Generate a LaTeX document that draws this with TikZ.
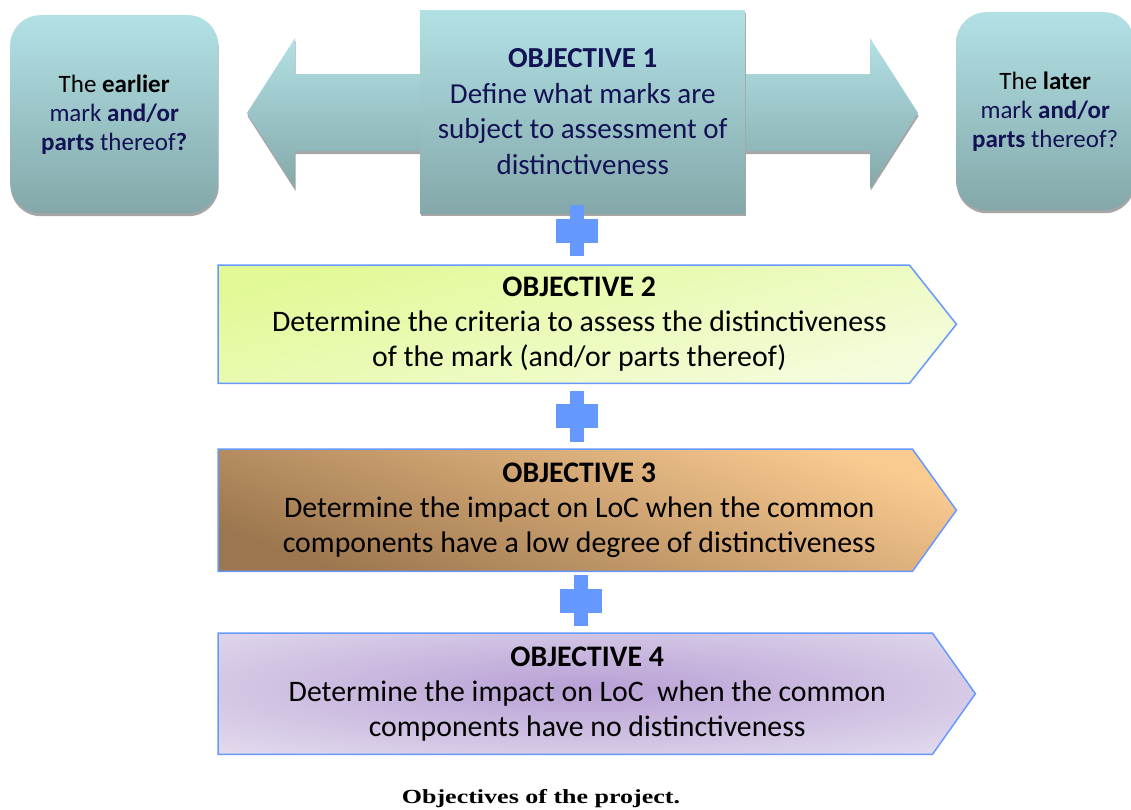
\documentclass[tikz,border=0pt]{standalone}
\usepackage{graphicx}
\usepackage{fontspec}
\setmainfont{Carlito}
\newfontfamily\captionserif{Liberation Serif}
\usetikzlibrary{calc,shadows,backgrounds}
\definecolor{tealtop}{RGB}{178,225,229}
\definecolor{tealbot}{RGB}{132,168,170}
\definecolor{navy}{RGB}{18,18,84}
\definecolor{plusblue}{RGB}{102,153,255}
\definecolor{greentop}{RGB}{226,249,150}
\definecolor{greenbot}{RGB}{244,252,222}
\definecolor{orangetop}{RGB}{250,203,145}
\definecolor{orangebot}{RGB}{156,118,78}
\definecolor{lilacout}{RGB}{229,223,239}
\definecolor{lilacin}{RGB}{184,160,213}
\tikzstyle{tealbox} = [top color=tealtop, bottom color=tealbot, drop shadow={shadow xshift=0.5pt, shadow yshift=-3pt, fill=black!35, opacity=1}]
\tikzstyle{sidebox} = [tealbox, rounded corners=30pt, anchor=north west, minimum width=208pt, minimum height=198pt, align=center, text=navy, font=\fontsize{25}{29}\selectfont]
\tikzstyle{objective} = [anchor=north west, minimum width=722pt, align=center, font=\fontsize{29.8}{35}\selectfont]
\tikzstyle{pointer} = [draw=plusblue, line width=1.5pt]
\tikzstyle{plusbar} = [fill=plusblue]

\begin{document}
\begin{tikzpicture}[x=1pt, y=-1pt]

    \useasboundingbox (0,0) rectangle (1131,809);

    \node (earlier) [sidebox] at (10,15) {\textcolor{black}{The \textbf{earlier}}\\
        mark \textbf{and/or}\\
        \textbf{parts} thereof\textbf{?}};
    \node (later) [sidebox, minimum width=178pt] at (956,12) {\textcolor{black}{The \textbf{later}}\\
        mark \textbf{and/or}\\
        \textbf{parts} thereof?};

    \path[tealbox] (247,113) -- (295,38) -- (295,74) -- (870,74) -- (870,38) -- (918,113)
        -- (870,188) -- (870,151) -- (295,151) -- (295,188) -- cycle;

    \node (obj1) [tealbox, anchor=north west, minimum width=325pt, minimum height=203pt, align=center, text=navy, font=\fontsize{29}{35.5}\selectfont] at (420,10) {\textbf{OBJECTIVE 1}\\
        Define what marks are\\
        subject to assessment of\\
        distinctiveness};

    \node (obj2) [objective, minimum height=118pt] at (218,265) {\textbf{OBJECTIVE 2}\\
        Determine the criteria to assess the distinctiveness\\
        of the mark (and/or parts thereof)};
    \node (obj3) [objective, minimum height=122pt] at (218,449) {\textbf{OBJECTIVE 3}\\
        Determine the impact on LoC when the common\\
        components have a low degree of distinctiveness};
    \node (obj4) [objective, minimum width=738pt, minimum height=121pt] at (218,633) {\textbf{OBJECTIVE 4}\\
        Determine the impact on LoC\ \ when the common\\
        components have no distinctiveness};

    \begin{scope}[on background layer]
        \draw[pointer, top color=greentop, bottom color=greenbot, shading angle=15] (obj2.north west) -- ($(obj2.north east)+(-31,0)$) -- ($(obj2.east)+(16,0)$) -- ($(obj2.south east)+(-31,0)$) -- (obj2.south west) -- cycle;
        \draw[pointer, top color=orangetop, bottom color=orangebot, shading angle=-20] (obj3.north west) -- ($(obj3.north east)+(-28,0)$) -- ($(obj3.east)+(16,0)$) -- ($(obj3.south east)+(-28,0)$) -- (obj3.south west) -- cycle;
        \draw[pointer, fill=lilacout, path picture={\shade[inner color=lilacin, outer color=lilacout] (585,688) ellipse [x radius=580, y radius=95];}] (obj4.north west) -- ($(obj4.north east)+(-24,0)$) -- ($(obj4.east)+(19,0)$) -- ($(obj4.south east)+(-24,0)$) -- (obj4.south west) -- cycle;
    \end{scope}

    \coordinate (p1) at ($(obj1.south)+(-5.5,17.5)$);
    \coordinate (p2) at ($(obj2.south)!0.5!(obj3.north)+(-2,0)$);
    \coordinate (p3) at ($(obj3.south)!0.5!(obj4.north)+(-2,-1.5)$);
    \foreach \p in {p1,p2,p3} {
        \fill[plusbar] ($(\p)+(-7,-25.5)$) rectangle ($(\p)+(7,25.5)$);
        \fill[plusbar] ($(\p)+(-21,-12)$) rectangle ($(\p)+(21,12)$);
    }

    \node (caption) [anchor=base, font=\captionserif\bfseries\fontsize{20}{24}\selectfont] at (541,803) {\scalebox{1.3}[1]{Objectives of the project.}};

\end{tikzpicture}
\end{document}
